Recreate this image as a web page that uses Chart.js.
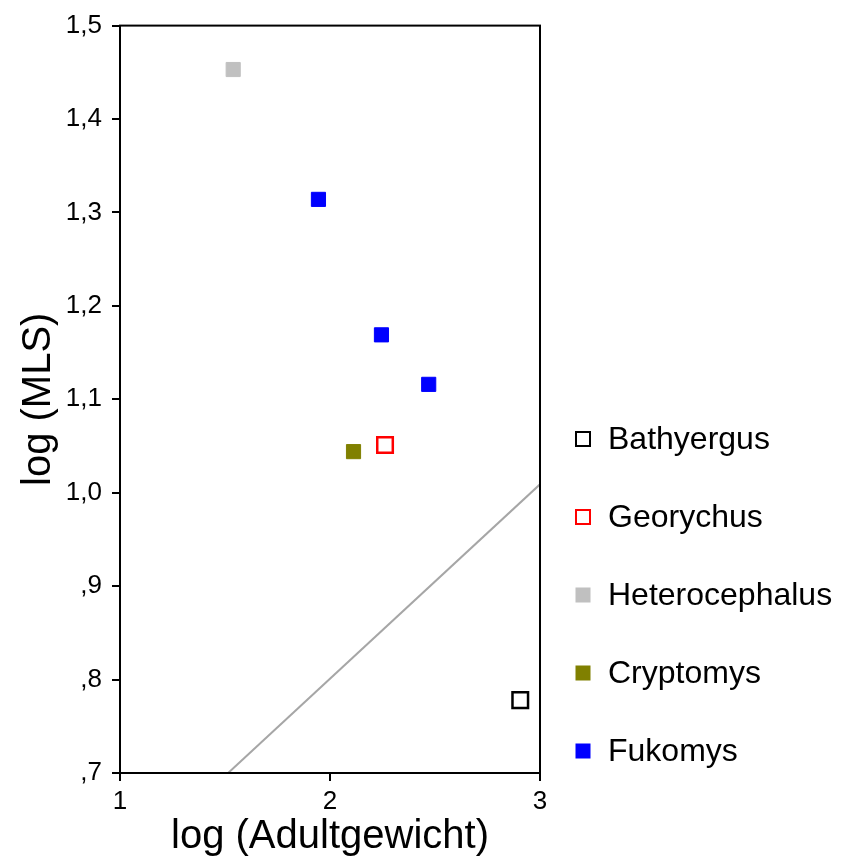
<!DOCTYPE html>
<html lang="de">
<head>
    <meta charset="UTF-8">
    <title>log (MLS) vs. log (Adultgewicht)</title>
    <script src="https://cdn.jsdelivr.net/npm/chart.js"></script>
    <style>
        body {
            margin: 0;
            background: #ffffff;
        }
        .chart-container {
            position: relative;
            width: 845px;
            height: 861px;
        }
    </style>
</head>
<body>
    <div class="chart-container">
        <canvas id="mlsChart"></canvas>
    </div>

    <script>
        // Gattungen und ihre Messpunkte (log Adultgewicht / log MLS)
        const species = ['Bathyergus', 'Georychus', 'Heterocephalus', 'Cryptomys', 'Fukomys'];
        const logWeight = [[2.906], [2.262], [1.539], [2.112], [1.945, 2.245, 2.470]];
        const logMLS = [[0.778], [1.051], [1.453], [1.044], [1.314, 1.169, 1.116]];

        // Regressionsgerade
        const lineX = [1.515, 3];
        const lineY = [0.7, 1.009];

        // Achsenbeschriftung
        const xTickValues = [1, 2, 3];
        const xTickLabels = ['1', '2', '3'];
        const yTickValues = [0.7, 0.8, 0.9, 1.0, 1.1, 1.2, 1.3, 1.4, 1.5];
        const yTickLabels = [',7', ',8', ',9', '1,0', '1,1', '1,2', '1,3', '1,4', '1,5'];

        // Marker: gefüllt oder nur Rahmen
        const markerStyles = [
            { fill: '#ffffff', stroke: '#000000', open: true },
            { fill: '#ffffff', stroke: '#ff0000', open: true },
            { fill: '#c0c0c0', stroke: '#c0c0c0', open: false },
            { fill: '#808000', stroke: '#808000', open: false },
            { fill: '#0000ff', stroke: '#0000ff', open: false }
        ];

        const FONT = "'Liberation Sans', Arial, sans-serif";

        const pointSets = species.map((name, i) => ({
            label: name,
            data: logWeight[i].map((x, j) => ({ x: x, y: logMLS[i][j] })),
            pointStyle: 'rect',
            pointRadius: markerStyles[i].open ? 11 : 10,
            pointBackgroundColor: markerStyles[i].fill,
            pointBorderColor: markerStyles[i].stroke,
            pointBorderWidth: markerStyles[i].open ? 2.5 : 1,
            showLine: false
        }));

        const fitLine = {
            label: 'fit',
            data: lineX.map((x, j) => ({ x: x, y: lineY[j] })),
            showLine: true,
            borderColor: '#a6a6a6',
            borderWidth: 2,
            pointRadius: 0,
            inLegend: false
        };

        // Rahmen um die Plotfläche
        const frame = {
            id: 'frame',
            afterDraw(chart) {
                const { ctx, chartArea: a } = chart;
                ctx.save();
                ctx.strokeStyle = '#000000';
                ctx.lineWidth = 2;
                ctx.strokeRect(a.left, a.top, a.right - a.left, a.bottom - a.top);
                ctx.restore();
            }
        };

        // Legende rechts neben dem Plot
        const sideLegend = {
            id: 'sideLegend',
            afterDraw(chart) {
                const { ctx, chartArea: a } = chart;
                const boxX = a.right + 43;
                const textX = a.right + 68;
                let y = 439;
                ctx.save();
                ctx.font = '32px ' + FONT;
                ctx.textBaseline = 'middle';
                ctx.textAlign = 'left';
                chart.data.datasets.forEach(ds => {
                    if (ds.inLegend === false) return;
                    const half = 7;
                    ctx.fillStyle = ds.pointBackgroundColor;
                    ctx.fillRect(boxX - half, y - half, half * 2, half * 2);
                    ctx.strokeStyle = ds.pointBorderColor;
                    ctx.lineWidth = ds.pointBorderWidth > 1 ? 2 : 1;
                    ctx.strokeRect(boxX - half, y - half, half * 2, half * 2);
                    ctx.fillStyle = '#000000';
                    ctx.fillText(ds.label, textX, y + 1);
                    y += 78;
                });
                ctx.restore();
            }
        };

        const ctx = document.getElementById('mlsChart').getContext('2d');
        const chart = new Chart(ctx, {
            type: 'scatter',
            data: {
                datasets: [fitLine, ...pointSets]
            },
            options: {
                responsive: true,
                maintainAspectRatio: false,
                animation: false,
                events: [],
                layout: {
                    padding: { top: 25, right: 305, bottom: 0, left: 0 }
                },
                plugins: {
                    legend: { display: false },
                    tooltip: { enabled: false }
                },
                scales: {
                    x: {
                        type: 'linear',
                        min: 1,
                        max: 3,
                        afterBuildTicks: scale => {
                            scale.ticks = xTickValues.map(v => ({ value: v }));
                        },
                        afterFit: scale => { scale.height = 88; },
                        ticks: {
                            callback: (v, i) => xTickLabels[i],
                            color: '#000000',
                            font: { family: FONT, size: 26 },
                            padding: 5,
                            maxRotation: 0
                        },
                        grid: {
                            display: true,
                            drawOnChartArea: false,
                            drawTicks: true,
                            tickLength: 8,
                            color: '#000000',
                            lineWidth: 2
                        },
                        border: { display: true, color: '#000000', width: 2 },
                        title: {
                            display: true,
                            text: 'log (Adultgewicht)',
                            color: '#000000',
                            font: { family: FONT, size: 40, lineHeight: 1.2 },
                            padding: { top: 0, bottom: 0 }
                        }
                    },
                    y: {
                        type: 'linear',
                        min: 0.7,
                        max: 1.5,
                        afterBuildTicks: scale => {
                            scale.ticks = yTickValues.map(v => ({ value: v }));
                        },
                        afterFit: scale => { scale.width = 120; },
                        ticks: {
                            callback: (v, i) => yTickLabels[i],
                            color: '#000000',
                            font: { family: FONT, size: 26 },
                            padding: 10
                        },
                        grid: {
                            display: true,
                            drawOnChartArea: false,
                            drawTicks: true,
                            tickLength: 8,
                            color: '#000000',
                            lineWidth: 2
                        },
                        border: { display: true, color: '#000000', width: 2 },
                        title: {
                            display: true,
                            text: 'log (MLS)',
                            color: '#000000',
                            font: { family: FONT, size: 40, lineHeight: 1.2 },
                            padding: { top: 15, bottom: 0 }
                        }
                    }
                }
            },
            plugins: [frame, sideLegend]
        });
    </script>
</body>
</html>
